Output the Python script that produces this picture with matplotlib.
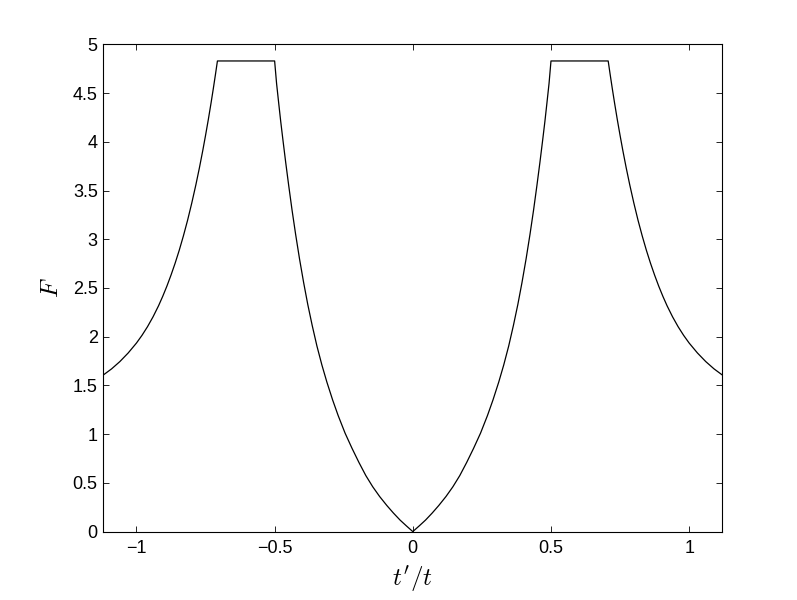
import matplotlib
matplotlib.use("Agg")
import matplotlib.pyplot as plt

# curve, t'/t from -1.12 to 1.12
x_vals = [-1.120, -1.090, -1.060, -1.030, -1.000, -0.980, -0.960, -0.940,
          -0.920, -0.905, -0.890, -0.875, -0.860, -0.845, -0.830, -0.815,
          -0.800, -0.785, -0.772, -0.760, -0.750, -0.740, -0.730, -0.722,
          -0.714, -0.707,
          -0.500, -0.493, -0.485, -0.478, -0.470, -0.460, -0.449, -0.437,
          -0.424, -0.410, -0.395, -0.380, -0.364, -0.347, -0.329, -0.311,
          -0.290, -0.270, -0.245, -0.220, -0.195, -0.170, -0.145, -0.120,
          -0.094, -0.070, -0.046, -0.023, 0.000,
          0.023, 0.046, 0.070, 0.094, 0.120, 0.145, 0.170, 0.195, 0.220,
          0.245, 0.270, 0.290, 0.311, 0.329, 0.347, 0.364, 0.380, 0.395,
          0.410, 0.424, 0.437, 0.449, 0.460, 0.470, 0.478, 0.485, 0.493,
          0.500,
          0.707, 0.714, 0.722, 0.730, 0.740, 0.750, 0.760, 0.772, 0.785,
          0.800, 0.815, 0.830, 0.845, 0.860, 0.875, 0.890, 0.905, 0.920,
          0.940, 0.960, 0.980, 1.000, 1.030, 1.060, 1.090, 1.120]
F_vals = [1.607, 1.670, 1.745, 1.833, 1.935, 2.014, 2.103, 2.204,
          2.318, 2.414, 2.518, 2.632, 2.755, 2.889, 3.036, 3.195,
          3.370, 3.559, 3.736, 3.911, 4.066, 4.228, 4.400, 4.544,
          4.694, 4.83,
          4.83, 4.60, 4.39, 4.21, 4.02, 3.79, 3.55, 3.30,
          3.05, 2.80, 2.555, 2.33, 2.115, 1.905, 1.71, 1.535,
          1.35, 1.19, 1.01, 0.855, 0.71, 0.575, 0.46, 0.36,
          0.268, 0.19, 0.118, 0.058, 0.0,
          0.058, 0.118, 0.19, 0.268, 0.36, 0.46, 0.575, 0.71, 0.855,
          1.01, 1.19, 1.35, 1.535, 1.71, 1.905, 2.115, 2.33, 2.555,
          2.80, 3.05, 3.30, 3.55, 3.79, 4.02, 4.21, 4.39, 4.60,
          4.83,
          4.83, 4.694, 4.544, 4.400, 4.228, 4.066, 3.911, 3.736, 3.559,
          3.370, 3.195, 3.036, 2.889, 2.755, 2.632, 2.518, 2.414, 2.318,
          2.204, 2.103, 2.014, 1.935, 1.833, 1.745, 1.670, 1.607]

x_ticks = [-1, -0.5, 0, 0.5, 1]
x_ticklabels = ["\u22121", "\u22120.5", "0", "0.5", "1"]
y_ticks = [0, 0.5, 1, 1.5, 2, 2.5, 3, 3.5, 4, 4.5, 5]
y_ticklabels = ["0", "0.5", "1", "1.5", "2", "2.5", "3", "3.5", "4", "4.5", "5"]

plt.rcParams['font.family'] = ['Liberation Sans', 'DejaVu Sans']
plt.rcParams['mathtext.fontset'] = 'cm'

fig = plt.figure(figsize=(7.97, 6.0), dpi=100)
ax = fig.add_axes([0.1296, 0.114, 0.7767, 0.812])

ax.plot(x_vals, F_vals, color='black', linewidth=0.9)

ax.set_xlim(-1.12, 1.12)
ax.set_ylim(0, 5)
ax.set_xticks(x_ticks)
ax.set_xticklabels(x_ticklabels)
ax.set_yticks(y_ticks)
ax.set_yticklabels(y_ticklabels)
ax.tick_params(direction='in', length=4.3, width=0.6, labelsize=13,
               top=True, right=True)
ax.tick_params(axis='x', pad=6)
ax.tick_params(axis='y', pad=4)
for sp in ax.spines.values():
    sp.set_linewidth(0.8)

ax.set_xlabel(r"$t'/t$", fontsize=18, labelpad=5)
ax.set_ylabel(r"$F$", fontsize=18, labelpad=7)

fig.savefig("out.png", dpi=100, facecolor='white')
